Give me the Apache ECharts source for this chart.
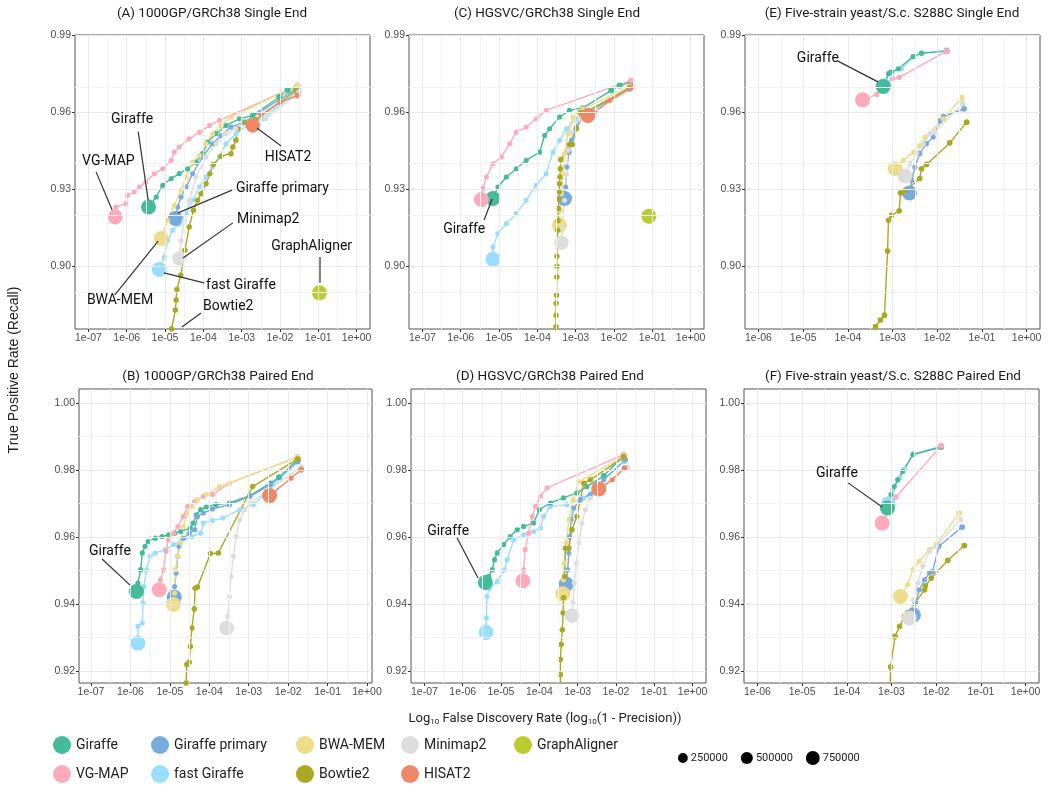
<!DOCTYPE html>
<html><head><meta charset="utf-8">
<script src="https://cdn.jsdelivr.net/npm/echarts@6/dist/echarts.min.js"></script>
<style>html,body{margin:0;padding:0;background:#fff}#c{width:1050px;height:792px}</style>
</head><body><div id="c"></div>
<script>
// ---------------- DATA: points are [log10(FDR), TPR (recall), reads] ----------------
// Panel A: 1000GP/GRCh38 Single End
const A_giraffe = [[-5.43,0.9231,950000],[-5.23,0.9270,6000],[-5.06,0.9316,6000],[-4.84,0.9342,6000],[-4.63,0.9361,6000],[-4.41,0.9380,6000],[-4.19,0.9406,6000],[-4.02,0.9439,6000],[-3.89,0.9484,6000],[-3.67,0.9517,6000],[-3.41,0.9549,6000],[-3.06,0.9575,6000],[-2.71,0.9588,8000],[-2.02,0.9660,25000],[-1.80,0.9688,30000],[-1.54,0.9699,40000]];
const A_vgmap = [[-6.30,0.9192,950000],[-6.28,0.9231,5000],[-6.02,0.9244,5000],[-5.98,0.9277,5000],[-5.80,0.9290,5000],[-5.67,0.9309,5000],[-5.50,0.9329,5000],[-5.28,0.9361,5000],[-5.06,0.9380,5000],[-4.84,0.9413,5000],[-4.76,0.9445,5000],[-4.63,0.9465,5000],[-4.37,0.9497,5000],[-4.10,0.9523,5000],[-3.84,0.9549,5000],[-3.58,0.9569,5000],[-1.54,0.9705,20000]];
const A_primary = [[-4.73,0.9186,950000],[-4.67,0.9231,5000],[-4.58,0.9270,5000],[-4.45,0.9309,5000],[-4.28,0.9361,5000],[-4.02,0.9426,5000],[-3.76,0.9478,5000],[-3.54,0.9510,5000],[-3.28,0.9543,5000],[-2.93,0.9562,5000],[-1.54,0.9696,20000]];
const A_fast = [[-5.15,0.8987,950000],[-5.02,0.9036,5000],[-4.93,0.9100,5000],[-4.80,0.9140,5000],[-4.63,0.9166,5000],[-4.45,0.9205,5000],[-4.28,0.9257,5000],[-4.10,0.9309,5000],[-3.93,0.9348,5000],[-3.76,0.9387,5000],[-3.58,0.9426,5000],[-3.41,0.9478,5000],[-3.15,0.9517,5000],[-2.80,0.9556,5000],[-2.45,0.9575,5000],[-1.58,0.9679,20000]];
const A_bwa = [[-5.10,0.9108,950000],[-4.93,0.9179,5000],[-4.76,0.9238,5000],[-4.58,0.9296,5000],[-4.45,0.9348,5000],[-4.28,0.9406,5000],[-4.10,0.9432,5000],[-3.93,0.9478,5000],[-3.76,0.9517,5000],[-3.54,0.9549,5000],[-3.28,0.9582,5000],[-1.54,0.9705,20000]];
const A_bowtie = [[-4.90,0.8600,700000],[-4.83,0.8755,12000],[-4.73,0.8829,12000],[-4.71,0.8868,12000],[-4.69,0.8909,12000],[-4.59,0.8965,12000],[-4.48,0.9062,12000],[-4.37,0.9153,12000],[-4.26,0.9218,12000],[-4.15,0.9257,12000],[-4.06,0.9283,12000],[-3.93,0.9322,12000],[-3.83,0.9361,12000],[-3.74,0.9397,12000],[-3.54,0.9429,12000],[-3.28,0.9439,12000],[-3.23,0.9465,12000],[-3.15,0.9491,12000],[-3.10,0.9536,12000],[-2.89,0.9562,12000],[-2.63,0.9571,12000],[-1.58,0.9686,20000]];
const A_minimap = [[-4.63,0.9030,800000],[-4.58,0.9100,5000],[-4.50,0.9179,5000],[-4.37,0.9257,5000],[-4.19,0.9348,5000],[-3.93,0.9426,5000],[-3.67,0.9478,5000],[-3.41,0.9517,5000],[-3.15,0.9536,5000],[-2.80,0.9562,5000],[-2.37,0.9575,5000],[-1.50,0.9679,20000]];
const A_hisat = [[-2.71,0.9549,850000],[-2.50,0.9590,5000],[-2.00,0.9640,5000],[-1.54,0.9666,20000]];
const A_graph = [[-0.97,0.8896,950000]];

// Panel C: HGSVC/GRCh38 Single End
const C_giraffe = [[-5.16,0.9264,950000],[-5.03,0.9309,5000],[-4.81,0.9348,5000],[-4.55,0.9380,5000],[-4.29,0.9413,5000],[-3.94,0.9445,5000],[-3.81,0.9510,5000],[-3.68,0.9536,5000],[-3.42,0.9582,5000],[-3.16,0.9608,5000],[-2.81,0.9618,5000],[-2.07,0.9686,25000],[-1.85,0.9705,30000],[-1.55,0.9718,40000]];
const C_vgmap = [[-5.46,0.9260,950000],[-5.42,0.9303,5000],[-5.33,0.9348,5000],[-5.16,0.9400,5000],[-4.94,0.9426,5000],[-4.72,0.9478,5000],[-4.55,0.9523,5000],[-4.29,0.9543,5000],[-4.03,0.9575,5000],[-3.77,0.9608,5000],[-1.55,0.9725,20000]];
const C_primary = [[-3.29,0.9264,950000],[-3.26,0.9309,5000],[-3.23,0.9387,5000],[-3.17,0.9445,5000],[-3.11,0.9491,5000],[-2.98,0.9543,5000],[-2.81,0.9582,5000],[-2.63,0.9608,5000],[-1.59,0.9692,20000]];
const C_fast = [[-5.16,0.9027,950000],[-5.16,0.9075,5000],[-5.03,0.9127,5000],[-4.81,0.9166,5000],[-4.55,0.9205,5000],[-4.29,0.9257,5000],[-4.03,0.9316,5000],[-3.77,0.9361,5000],[-3.59,0.9445,5000],[-3.42,0.9491,5000],[-3.24,0.9536,5000],[-2.98,0.9575,5000],[-2.63,0.9601,5000],[-1.59,0.9696,20000]];
const C_bwa = [[-3.42,0.9160,950000],[-3.40,0.9218,5000],[-3.37,0.9283,5000],[-3.33,0.9361,5000],[-3.29,0.9439,5000],[-3.20,0.9517,5000],[-3.07,0.9582,5000],[-2.81,0.9614,5000],[-1.59,0.9701,20000]];
const C_bowtie = [[-3.52,0.8600,700000],[-3.51,0.8764,12000],[-3.51,0.8809,12000],[-3.51,0.8855,12000],[-3.50,0.8887,12000],[-3.49,0.8958,12000],[-3.49,0.9000,12000],[-3.49,0.9039,12000],[-3.48,0.9092,12000],[-3.47,0.9140,12000],[-3.46,0.9177,12000],[-3.45,0.9225,12000],[-3.44,0.9260,12000],[-3.43,0.9290,12000],[-3.42,0.9322,12000],[-3.41,0.9348,12000],[-3.40,0.9380,12000],[-3.39,0.9416,12000],[-3.16,0.9475,12000],[-3.09,0.9475,12000],[-2.98,0.9536,12000],[-2.88,0.9600,12000],[-2.70,0.9604,12000],[-1.59,0.9696,20000]];
const C_minimap = [[-3.37,0.9092,850000],[-3.35,0.9153,5000],[-3.29,0.9257,5000],[-3.24,0.9361,5000],[-3.20,0.9452,5000],[-3.11,0.9523,5000],[-2.90,0.9575,5000],[-2.46,0.9608,5000],[-1.50,0.9696,20000]];
const C_hisat = [[-2.68,0.9588,950000],[-2.50,0.9601,5000],[-2.11,0.9647,5000],[-1.55,0.9696,20000]];
const C_graph = [[-1.09,0.9195,950000]];

// Panel E: Five-strain yeast/S.c. S288C Single End
const E_giraffe = [[-3.21,0.9701,950000],[-3.09,0.9751,8000],[-3.02,0.9757,8000],[-2.87,0.9770,8000],[-2.54,0.9818,8000],[-2.35,0.9831,8000],[-1.79,0.9839,25000]];
const E_vgmap = [[-3.67,0.9649,950000],[-3.35,0.9670,8000],[-3.00,0.9732,8000],[-2.85,0.9737,8000],[-1.79,0.9839,25000]];
const E_primary = [[-2.62,0.9286,950000],[-2.57,0.9335,6000],[-2.50,0.9387,6000],[-2.39,0.9439,6000],[-2.24,0.9478,6000],[-2.09,0.9504,6000],[-1.94,0.9566,12000],[-1.86,0.9584,12000],[-1.40,0.9614,20000]];
const E_fast = [[-3.19,0.9705,900000],[-3.06,0.9757,8000],[-2.80,0.9770,8000],[-2.52,0.9818,8000],[-2.35,0.9831,8000],[-1.79,0.9842,25000]];
const E_bwa = [[-2.94,0.9380,950000],[-2.76,0.9413,6000],[-2.53,0.9445,6000],[-2.39,0.9471,6000],[-2.27,0.9504,6000],[-1.86,0.9575,6000],[-1.45,0.9657,20000]];
const E_bowtie = [[-3.45,0.8650,600000],[-3.38,0.8764,15000],[-3.27,0.8790,15000],[-3.18,0.8809,15000],[-3.11,0.9059,15000],[-3.09,0.9179,15000],[-3.02,0.9199,15000],[-2.85,0.9216,15000],[-2.82,0.9286,15000],[-2.72,0.9294,15000],[-2.39,0.9342,15000],[-2.35,0.9380,15000],[-2.24,0.9397,15000],[-1.72,0.9481,15000],[-1.34,0.9562,20000]];
const E_minimap = [[-2.72,0.9351,900000],[-2.61,0.9400,6000],[-2.46,0.9439,6000],[-2.31,0.9478,6000],[-2.16,0.9517,6000],[-2.05,0.9523,6000],[-1.43,0.9636,20000]];

// Panel B: 1000GP/GRCh38 Paired End
const B_giraffe = [[-5.85,0.9438,950000],[-5.81,0.9463,6000],[-5.74,0.9503,6000],[-5.70,0.9553,6000],[-5.63,0.9573,6000],[-5.55,0.9587,6000],[-5.37,0.9597,6000],[-5.20,0.9602,6000],[-5.03,0.9607,6000],[-4.88,0.9612,6000],[-4.73,0.9617,6000],[-4.48,0.9627,6000],[-4.41,0.9642,6000],[-4.33,0.9667,6000],[-4.22,0.9682,6000],[-4.08,0.9690,6000],[-3.83,0.9697,6000],[-3.49,0.9702,6000],[-2.97,0.9724,6000],[-2.45,0.9761,6000],[-2.23,0.9779,20000],[-1.76,0.9831,30000]];
const B_vgmap = [[-5.27,0.9443,950000],[-5.24,0.9473,5000],[-5.16,0.9503,5000],[-5.10,0.9558,5000],[-5.04,0.9592,5000],[-4.91,0.9612,5000],[-4.80,0.9632,5000],[-4.66,0.9662,5000],[-4.55,0.9692,5000],[-4.37,0.9707,5000],[-4.15,0.9722,5000],[-3.92,0.9727,5000],[-3.49,0.9761,5000],[-1.76,0.9839,20000]];
const B_primary = [[-4.89,0.9421,950000],[-4.88,0.9453,5000],[-4.84,0.9493,5000],[-4.80,0.9543,5000],[-4.77,0.9573,5000],[-4.66,0.9597,5000],[-4.51,0.9612,5000],[-4.37,0.9622,5000],[-4.30,0.9662,5000],[-4.15,0.9672,5000],[-3.92,0.9684,5000],[-3.49,0.9697,5000],[-2.97,0.9722,5000],[-2.45,0.9756,5000],[-1.76,0.9826,20000]];
const B_fast = [[-5.81,0.9284,950000],[-5.81,0.9334,5000],[-5.70,0.9344,5000],[-5.68,0.9404,5000],[-5.66,0.9453,5000],[-5.59,0.9503,5000],[-5.50,0.9543,5000],[-5.37,0.9553,5000],[-5.11,0.9563,5000],[-4.91,0.9578,5000],[-4.73,0.9587,5000],[-4.44,0.9602,5000],[-4.22,0.9612,5000],[-4.15,0.9642,5000],[-3.92,0.9650,5000],[-3.66,0.9657,5000],[-3.23,0.9682,5000],[-2.88,0.9697,5000],[-1.76,0.9826,20000]];
const B_bwa = [[-4.91,0.9399,950000],[-4.88,0.9433,5000],[-4.86,0.9503,5000],[-4.80,0.9543,5000],[-4.73,0.9583,5000],[-4.66,0.9632,5000],[-4.55,0.9672,5000],[-4.44,0.9692,5000],[-4.30,0.9712,5000],[-4.08,0.9727,5000],[-3.74,0.9751,5000],[-3.49,0.9761,5000],[-1.76,0.9839,20000]];
const B_bowtie = [[-4.62,0.9000,600000],[-4.59,0.9165,12000],[-4.57,0.9220,12000],[-4.51,0.9227,12000],[-4.48,0.9274,12000],[-4.44,0.9329,12000],[-4.38,0.9386,12000],[-4.36,0.9448,12000],[-4.30,0.9451,12000],[-3.97,0.9551,12000],[-3.77,0.9553,12000],[-2.90,0.9751,12000],[-1.76,0.9833,20000]];
const B_minimap = [[-3.56,0.9329,900000],[-3.53,0.9364,5000],[-3.49,0.9423,5000],[-3.45,0.9483,5000],[-3.39,0.9543,5000],[-3.32,0.9602,5000],[-3.23,0.9652,5000],[-3.10,0.9682,5000],[-2.97,0.9702,5000],[-1.67,0.9809,20000]];
const B_hisat = [[-2.47,0.9724,950000],[-1.93,0.9776,8000],[-1.67,0.9801,20000]];

// Panel D: HGSVC/GRCh38 Paired End
const D_giraffe = [[-5.41,0.9465,950000],[-5.32,0.9483,6000],[-5.23,0.9503,6000],[-5.17,0.9533,6000],[-5.10,0.9553,6000],[-4.93,0.9578,6000],[-4.76,0.9602,6000],[-4.58,0.9622,6000],[-4.41,0.9632,6000],[-4.15,0.9642,6000],[-4.00,0.9682,6000],[-3.71,0.9702,6000],[-3.37,0.9717,6000],[-3.02,0.9732,6000],[-2.76,0.9751,6000],[-2.32,0.9783,20000],[-1.80,0.9843,30000]];
const D_vgmap = [[-4.43,0.9470,950000],[-4.41,0.9503,5000],[-4.37,0.9563,5000],[-4.28,0.9612,5000],[-4.19,0.9662,5000],[-4.10,0.9692,5000],[-3.97,0.9722,5000],[-3.80,0.9747,5000],[-1.80,0.9846,20000]];
const D_primary = [[-3.30,0.9460,950000],[-3.26,0.9503,5000],[-3.23,0.9553,5000],[-3.21,0.9602,5000],[-3.17,0.9652,5000],[-3.10,0.9687,5000],[-2.93,0.9712,5000],[-2.67,0.9727,5000],[-2.32,0.9771,5000],[-1.76,0.9831,20000]];
const D_fast = [[-5.39,0.9316,950000],[-5.38,0.9359,5000],[-5.37,0.9423,5000],[-5.30,0.9448,5000],[-5.10,0.9468,5000],[-4.91,0.9503,5000],[-4.84,0.9533,5000],[-4.67,0.9592,5000],[-4.41,0.9607,5000],[-4.15,0.9617,5000],[-3.97,0.9627,5000],[-3.89,0.9662,5000],[-3.71,0.9692,5000],[-3.28,0.9697,5000],[-2.84,0.9717,5000],[-1.80,0.9826,20000]];
const D_bwa = [[-3.39,0.9431,950000],[-3.37,0.9473,5000],[-3.35,0.9523,5000],[-3.30,0.9583,5000],[-3.23,0.9652,5000],[-3.12,0.9712,5000],[-2.97,0.9766,5000],[-1.80,0.9841,20000]];
const D_bowtie = [[-3.46,0.9000,600000],[-3.45,0.9160,12000],[-3.45,0.9190,12000],[-3.45,0.9235,12000],[-3.43,0.9280,12000],[-3.40,0.9324,12000],[-3.38,0.9374,12000],[-3.37,0.9419,12000],[-3.34,0.9483,12000],[-3.32,0.9567,12000],[-3.23,0.9567,12000],[-3.15,0.9622,12000],[-3.02,0.9662,12000],[-2.84,0.9761,12000],[-2.67,0.9771,12000],[-1.80,0.9839,20000]];
const D_minimap = [[-3.15,0.9366,900000],[-3.12,0.9404,5000],[-3.09,0.9463,5000],[-3.03,0.9523,5000],[-2.97,0.9583,5000],[-2.89,0.9642,5000],[-2.80,0.9682,5000],[-2.67,0.9717,5000],[-1.71,0.9808,20000]];
const D_hisat = [[-2.45,0.9744,950000],[-2.10,0.9771,8000],[-1.78,0.9806,20000]];

// Panel F: Five-strain yeast/S.c. S288C Paired End
const F_giraffe = [[-3.09,0.9687,950000],[-3.01,0.9727,8000],[-2.94,0.9751,8000],[-2.86,0.9771,8000],[-2.75,0.9796,8000],[-2.52,0.9846,8000],[-1.89,0.9869,25000]];
const F_vgmap = [[-3.21,0.9642,950000],[-2.90,0.9720,8000],[-1.89,0.9873,25000]];
const F_primary = [[-2.51,0.9368,950000],[-2.46,0.9404,6000],[-2.38,0.9443,6000],[-2.26,0.9473,6000],[-2.15,0.9493,6000],[-2.08,0.9498,6000],[-1.94,0.9573,12000],[-1.42,0.9630,20000]];
const F_fast = [[-3.07,0.9700,900000],[-3.06,0.9712,8000],[-2.97,0.9742,8000],[-2.82,0.9776,8000],[-2.71,0.9803,8000],[-2.51,0.9849,8000],[-1.89,0.9871,25000]];
const F_bwa = [[-2.80,0.9423,950000],[-2.64,0.9458,6000],[-2.52,0.9503,6000],[-2.38,0.9528,6000],[-2.15,0.9563,6000],[-2.00,0.9578,6000],[-1.49,0.9672,20000]];
const F_bowtie = [[-3.05,0.9000,600000],[-3.03,0.9160,15000],[-3.02,0.9213,15000],[-2.92,0.9304,15000],[-2.82,0.9334,15000],[-2.71,0.9364,15000],[-2.64,0.9374,15000],[-2.26,0.9443,15000],[-2.24,0.9455,15000],[-2.11,0.9478,15000],[-1.74,0.9531,15000],[-1.37,0.9575,20000]];
const F_minimap = [[-2.60,0.9359,950000],[-2.51,0.9413,6000],[-2.41,0.9463,6000],[-2.30,0.9513,6000],[-2.15,0.9558,6000],[-2.00,0.9573,6000],[-1.46,0.9652,20000]];

// tick values
const X_TICKS_7 = [-7,-6,-5,-4,-3,-2,-1,0];
const X_MINOR_7 = [-6.5,-5.5,-4.5,-3.5,-2.5,-1.5,-0.5];
const X_TICKS_6 = [-6,-5,-4,-3,-2,-1,0];
const X_MINOR_6 = [-5.5,-4.5,-3.5,-2.5,-1.5,-0.5];
const Y_TICKS_SE = [0.90,0.93,0.96,0.99];
const Y_MINOR_SE = [0.885,0.915,0.945,0.975];
const Y_TICKS_PE = [0.92,0.94,0.96,0.98,1.00];
const Y_MINOR_PE = [0.93,0.95,0.97,0.99];
const SIZE_LEGEND = [250000,500000,750000];

// ---------------- METHODS / STYLE ----------------
const METHODS = [
  {key:'giraffe', name:'Giraffe', color:'#44BB99'},
  {key:'vgmap', name:'VG-MAP', color:'#FFAABB'},
  {key:'primary', name:'Giraffe primary', color:'#77AADD'},
  {key:'fast', name:'fast Giraffe', color:'#99DDFF'},
  {key:'bwa', name:'BWA-MEM', color:'#EEDD88'},
  {key:'bowtie', name:'Bowtie2', color:'#AAAA22'},
  {key:'minimap', name:'Minimap2', color:'#DDDDDD'},
  {key:'hisat', name:'HISAT2', color:'#EE8866'},
  {key:'graph', name:'GraphAligner', color:'#BBCC33'}
];
// drawing order of the point layers (bottom -> top)
const DRAW_ORDER = ['fast','giraffe','vgmap','primary','bwa','bowtie','minimap','hisat','graph'];
const sizeOf = n => 4.3 + 0.011 * Math.sqrt(n);

const PANELS = [
  {title:'(A) 1000GP/GRCh38 Single End', tx:212, ty:14, grid:{left:75, top:35, width:295, height:294}, xr:[-7.35,0.35], yr:[0.8755,0.9902], xt:X_TICKS_7, xm:X_MINOR_7, yt:Y_TICKS_SE, ym:Y_MINOR_SE,
   d:{giraffe:A_giraffe, vgmap:A_vgmap, primary:A_primary, fast:A_fast, bwa:A_bwa, bowtie:A_bowtie, minimap:A_minimap, hisat:A_hisat, graph:A_graph}},
  {title:'(C) HGSVC/GRCh38 Single End', tx:547, ty:14, grid:{left:409, top:35, width:295, height:294}, xr:[-7.35,0.35], yr:[0.8755,0.9902], xt:X_TICKS_7, xm:X_MINOR_7, yt:Y_TICKS_SE, ym:Y_MINOR_SE,
   d:{giraffe:C_giraffe, vgmap:C_vgmap, primary:C_primary, fast:C_fast, bwa:C_bwa, bowtie:C_bowtie, minimap:C_minimap, hisat:C_hisat, graph:C_graph}},
  {title:'(E) Five-strain yeast/S.c. S288C Single End', tx:892, ty:14, grid:{left:745, top:35, width:295, height:294}, xr:[-6.3,0.3], yr:[0.8755,0.9902], xt:X_TICKS_6, xm:X_MINOR_6, yt:Y_TICKS_SE, ym:Y_MINOR_SE,
   d:{giraffe:E_giraffe, vgmap:E_vgmap, primary:E_primary, fast:E_fast, bwa:E_bwa, bowtie:E_bowtie, minimap:E_minimap}},
  {title:'(B) 1000GP/GRCh38 Paired End', tx:218, ty:377, grid:{left:79, top:389, width:293, height:294}, xr:[-7.305,0.127], yr:[0.9165,1.0042], xt:X_TICKS_7, xm:X_MINOR_7, yt:Y_TICKS_PE, ym:Y_MINOR_PE,
   d:{giraffe:B_giraffe, vgmap:B_vgmap, primary:B_primary, fast:B_fast, bwa:B_bwa, bowtie:B_bowtie, minimap:B_minimap, hisat:B_hisat}},
  {title:'(D) HGSVC/GRCh38 Paired End', tx:550, ty:377, grid:{left:411, top:389, width:295, height:294}, xr:[-7.35,0.35], yr:[0.9165,1.0042], xt:X_TICKS_7, xm:X_MINOR_7, yt:Y_TICKS_PE, ym:Y_MINOR_PE,
   d:{giraffe:D_giraffe, vgmap:D_vgmap, primary:D_primary, fast:D_fast, bwa:D_bwa, bowtie:D_bowtie, minimap:D_minimap, hisat:D_hisat}},
  {title:'(F) Five-strain yeast/S.c. S288C Paired End', tx:893, ty:377, grid:{left:744, top:389, width:295, height:294}, xr:[-6.3,0.3], yr:[0.9165,1.0042], xt:X_TICKS_6, xm:X_MINOR_6, yt:Y_TICKS_PE, ym:Y_MINOR_PE,
   d:{giraffe:F_giraffe, vgmap:F_vgmap, primary:F_primary, fast:F_fast, bwa:F_bwa, bowtie:F_bowtie, minimap:F_minimap}}
];

// annotation labels (data coordinates of each panel)
const ANNOT = [
  {g:0, text:'Giraffe', at:[-5.86,0.9574], align:'center', from:[-5.70,0.9525], to:[-5.44,0.9258]},
  {g:0, text:'VG-MAP', at:[-6.48,0.9408], align:'center', from:[-6.80,0.9368], to:[-6.38,0.9219]},
  {g:0, text:'HISAT2', at:[-1.79,0.9426], align:'center', from:[-1.97,0.9469], to:[-2.60,0.9539]},
  {g:0, text:'Giraffe primary', at:[-3.15,0.9305], align:'left', from:[-3.25,0.9297], to:[-4.66,0.9208]},
  {g:0, text:'Minimap2', at:[-3.12,0.9184], align:'left', from:[-3.23,0.9169], to:[-4.53,0.9032]},
  {g:0, text:'GraphAligner', at:[-2.23,0.9075], align:'left', from:[-0.955,0.9036], to:[-0.955,0.8935]},
  {g:0, text:'fast Giraffe', at:[-3.93,0.8923], align:'left', from:[-3.98,0.8935], to:[-5.03,0.8974]},
  {g:0, text:'BWA-MEM', at:[-6.175,0.8868], align:'center', from:[-6.31,0.8888], to:[-5.18,0.9098]},
  {g:0, text:'Bowtie2', at:[-4.01,0.8841], align:'left', from:[-4.06,0.8817], to:[-4.56,0.8763]},
  {g:1, text:'Giraffe', at:[-5.91,0.9145], align:'center', from:[-5.39,0.9180], to:[-5.18,0.9262]},
  {g:2, text:'Giraffe', at:[-4.67,0.9812], align:'center', from:[-4.22,0.9800], to:[-3.325,0.9719]},
  {g:3, text:'Giraffe', at:[-6.52,0.9556], align:'center', from:[-6.72,0.9535], to:[-6.01,0.9457]},
  {g:4, text:'Giraffe', at:[-6.38,0.9618], align:'center', from:[-6.15,0.9598], to:[-5.60,0.9478]},
  {g:5, text:'Giraffe', at:[-4.22,0.9789], align:'center', from:[-3.97,0.9762], to:[-3.21,0.9690]}
];

// ---------------- BUILD OPTION ----------------
const LABEL_FONT = 'Roboto, "Noto Sans", sans-serif';
const TICK_FONT = '"Liberation Sans", Arial, sans-serif';
const fmtX = v => { const e = Math.round(v); return '1e' + (e < 0 ? '-' : '+') + String(Math.abs(e)).padStart(2, '0'); };
const methodByKey = {};
METHODS.forEach(m => { methodByKey[m.key] = m; });

const grids = [], xAxes = [], yAxes = [], scatterSeries = [], lineSeries = [], gridSeries = [];
PANELS.forEach((p, i) => {
  grids.push(Object.assign({show:true, borderColor:'#555', borderWidth:1, backgroundColor:'#fff', containLabel:false}, p.grid));
  xAxes.push({type:'value', gridIndex:i, min:p.xr[0], max:p.xr[1],
    axisLine:{show:false, onZero:false}, splitLine:{show:false},
    axisTick:{show:true, customValues:p.xt, length:3, lineStyle:{color:'#333', width:1}},
    axisLabel:{customValues:p.xt, formatter:fmtX, color:'#4d4d4d', fontSize:10.5, fontFamily:TICK_FONT, margin:4}});
  yAxes.push({type:'value', gridIndex:i, min:p.yr[0], max:p.yr[1],
    axisLine:{show:false, onZero:false}, splitLine:{show:false},
    axisTick:{show:true, customValues:p.yt, length:3, lineStyle:{color:'#333', width:1}},
    axisLabel:{customValues:p.yt, formatter:v => v.toFixed(2), color:'#4d4d4d', fontSize:10.5, fontFamily:TICK_FONT, margin:4}});
  const major = {color:'#e9e9e9', width:1, type:'solid'};
  const minor = {color:'#f3f3f3', width:1, type:'solid'};
  gridSeries.push({type:'line', xAxisIndex:i, yAxisIndex:i, data:[], silent:true, z:1, animation:false,
    markLine:{silent:true, symbol:['none','none'], animation:false, label:{show:false},
      data:[].concat(
        p.xm.map(v => ({xAxis:v, lineStyle:minor})),
        p.ym.map(v => ({yAxis:v, lineStyle:minor})),
        p.xt.map(v => ({xAxis:v, lineStyle:major})),
        p.yt.map(v => ({yAxis:v, lineStyle:major})))}});
  DRAW_ORDER.forEach(k => {
    const m = methodByKey[k];
    const pts = p.d[k];
    if (!pts) return;
    scatterSeries.push({type:'scatter', name:m.name, xAxisIndex:i, yAxisIndex:i, data:pts, clip:true,
      symbolSize: v => sizeOf(v[2]), itemStyle:{color:m.color, opacity:1}, z:3, animation:false, silent:true});
    if (pts.length > 1)
      lineSeries.push({type:'line', name:m.name, xAxisIndex:i, yAxisIndex:i, data:pts.map(q => [q[0], q[1]]), clip:true,
        showSymbol:false, symbol:'none', lineStyle:{color:m.color, width:1.4}, itemStyle:{color:m.color}, z:2, animation:false, silent:true});
  });
});

// legends (two rows, column-wise like the original)
const LEGEND_POS = {
  'Giraffe':[53,736], 'Giraffe primary':[151,736], 'BWA-MEM':[296,736], 'Minimap2':[401,736], 'GraphAligner':[514,736],
  'VG-MAP':[53,765], 'fast Giraffe':[151,765], 'Bowtie2':[296,765], 'HISAT2':[401,765]
};
const legends = METHODS.map(m => ({data:[m.name], left:LEGEND_POS[m.name][0], top:LEGEND_POS[m.name][1],
  icon:'circle', itemWidth:18, itemHeight:18, selectedMode:false, padding:0,
  itemStyle:{color:m.color}, textStyle:{fontFamily:LABEL_FONT, fontSize:14, color:'#222'}}));

const staticGraphic = [];
PANELS.forEach(p => staticGraphic.push({type:'text', x:p.tx, y:p.ty, silent:true,
  style:{text:p.title, fill:'#1a1a1a', fontSize:13.5, fontFamily:LABEL_FONT, textAlign:'center', textVerticalAlign:'middle', verticalAlign:'middle'}}));
staticGraphic.push({type:'text', x:14, y:370, rotation:Math.PI/2, silent:true,
  style:{text:'True Positive Rate (Recall)', fill:'#222', fontSize:14, fontFamily:TICK_FONT, textAlign:'center', textVerticalAlign:'middle', verticalAlign:'middle'}});
staticGraphic.push({type:'text', x:545, y:719, silent:true,
  style:{text:'{t|Log}{s|10}{t| False Discovery Rate (log}{s|10}{t|(1 - Precision))}', textAlign:'center', textVerticalAlign:'middle', verticalAlign:'middle',
    rich:{t:{fontSize:13, fontFamily:LABEL_FONT, fill:'#222', color:'#222'}, s:{fontSize:8, fontFamily:LABEL_FONT, fill:'#222', color:'#222', verticalAlign:'bottom', padding:[6,0,0,0]}}}});
// size legend
let sx = 678;
SIZE_LEGEND.forEach(n => {
  const r = sizeOf(n) / 2;
  staticGraphic.push({type:'circle', shape:{cx:sx + r, cy:758, r:r}, style:{fill:'#000'}, silent:true});
  staticGraphic.push({type:'text', x:sx + 2 * r + 3, y:758, silent:true,
    style:{text:String(n), fill:'#222', fontSize:11, fontFamily:LABEL_FONT, textAlign:'left', textVerticalAlign:'middle', verticalAlign:'middle'}});
  sx += 2 * r + 3 + 40 + 10;
});

const option = {
  backgroundColor:'#fff', animation:false,
  grid:grids, xAxis:xAxes, yAxis:yAxes, legend:legends,
  series:[].concat(gridSeries, lineSeries, scatterSeries),
  graphic:staticGraphic
};

const chart = echarts.init(document.getElementById('c'), null, {renderer:'canvas'});
chart.setOption(option);

// annotations placed through the axes' own conversion
const annotGraphic = [];
ANNOT.forEach(a => {
  const pAt = chart.convertToPixel({gridIndex:a.g}, a.at);
  const p1 = chart.convertToPixel({gridIndex:a.g}, a.from);
  const p2 = chart.convertToPixel({gridIndex:a.g}, a.to);
  annotGraphic.push({type:'line', shape:{x1:p1[0], y1:p1[1], x2:p2[0], y2:p2[1]}, style:{stroke:'#333', lineWidth:1.2}, silent:true, z:100});
  annotGraphic.push({type:'text', x:pAt[0], y:pAt[1], silent:true, z:100,
    style:{text:a.text, fill:'#111', fontSize:14, fontFamily:LABEL_FONT, textAlign:a.align, textVerticalAlign:'middle', verticalAlign:'middle'}});
});
chart.setOption({graphic:staticGraphic.concat(annotGraphic)});
</script></body></html>
